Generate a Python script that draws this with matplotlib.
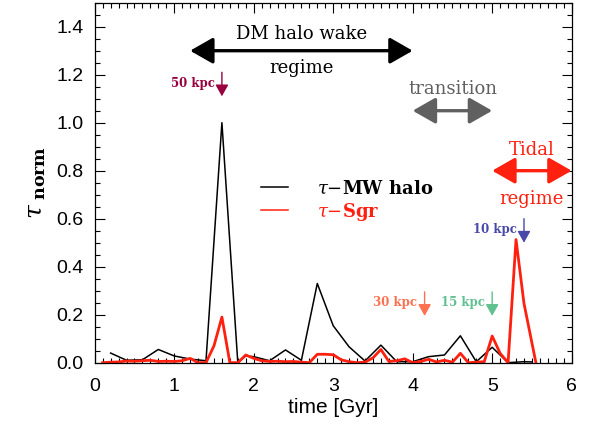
import matplotlib
matplotlib.use('Agg')
import matplotlib.pyplot as plt
from matplotlib.ticker import MultipleLocator

plt.rcParams['font.family'] = ['Liberation Sans', 'DejaVu Sans']
plt.rcParams['mathtext.fontset'] = 'dejavuserif'

# tau normalised, MW halo response
t_halo = [0.2, 0.4, 0.6, 0.8, 1.0, 1.2, 1.4, 1.6, 1.8, 1.9, 2.0, 2.2, 2.4, 2.6, 2.8,
          3.0, 3.2, 3.4, 3.6, 3.8, 4.0, 4.2, 4.4, 4.6, 4.8, 5.0, 5.2, 5.4, 5.5]
tau_halo = [0.04, 0.01, 0.012, 0.055, 0.028, 0.015, 0.008, 1.0, 0.0, 0.028, 0.025, 0.008,
            0.053, 0.01, 0.33, 0.154, 0.066, 0.007, 0.073, 0.004, 0.004, 0.025, 0.032,
            0.112, 0.004, 0.064, 0.0, 0.004, 0.003]

# tau normalised, Sgr
t_sgr = [0.1, 0.2, 0.3, 0.4, 0.5, 0.6, 0.7, 0.8, 0.9, 1.0, 1.1, 1.2, 1.3, 1.4, 1.5, 1.6,
         1.7, 1.8, 1.9, 2.0, 2.1, 2.2, 2.3, 2.4, 2.5, 2.6, 2.7, 2.8, 2.9, 3.0, 3.1, 3.2,
         3.3, 3.4, 3.5, 3.6, 3.7, 3.8, 3.9, 4.0, 4.1, 4.2, 4.3, 4.4, 4.5, 4.6, 4.7, 4.8,
         4.9, 5.0, 5.1, 5.2, 5.3, 5.4, 5.55]
tau_sgr = [0.0, 0.002, 0.003, 0.007, 0.006, 0.008, 0.01, 0.005, 0.006, 0.005, 0.008, 0.018,
           0.0, 0.0, 0.07, 0.19, 0.0, 0.0, 0.032, 0.018, 0.008, 0.005, 0.006, 0.004, 0.005,
           0.002, 0.0, 0.035, 0.035, 0.033, 0.012, 0.004, 0.0, 0.002, 0.02, 0.055, 0.005,
           0.008, 0.016, 0.0, 0.005, 0.014, 0.003, 0.01, 0.002, 0.039, 0.0, 0.002, 0.004,
           0.111, 0.039, 0.0, 0.513, 0.247, 0.0]

# pericentre markers: label, time, colour
peri_labels = ['50 kpc', '30 kpc', '15 kpc', '10 kpc']
peri_times = [1.6, 4.15, 5.0, 5.4]
peri_tops = [1.21, 0.295, 0.295, 0.60]
peri_colors = ['#990040', '#ff7050', '#60c090', '#4848a8']

fig = plt.figure(figsize=(6.01, 4.38), dpi=100)
ax = fig.add_axes([0.1576, 0.172, 0.7936, 0.8218])

ax.plot(t_halo, tau_halo, color='black', lw=1.1, label=r'$\tau$$-$MW halo')
ax.plot(t_sgr, tau_sgr, color='#ff2010', lw=2.0, label=r'$\tau$$-$Sgr')

ax.set_xlim(0, 6)
ax.set_ylim(0, 1.5)
ax.xaxis.set_major_locator(MultipleLocator(1))
ax.xaxis.set_minor_locator(MultipleLocator(0.1))
ax.yaxis.set_major_locator(MultipleLocator(0.2))
ax.yaxis.set_minor_locator(MultipleLocator(0.05))
ax.yaxis.set_major_formatter(matplotlib.ticker.FormatStrFormatter('%.1f'))
ax.tick_params(which='both', direction='in', top=True, right=True, labelsize=14, width=0.8)
ax.tick_params(which='major', length=7)
ax.tick_params(axis='x', which='major', pad=11)
ax.tick_params(axis='y', which='major', pad=8)
ax.tick_params(which='minor', length=3.5)
for s in ax.spines.values():
    s.set_linewidth(0.9)

ax.set_xlabel('time [Gyr]', fontsize=15, labelpad=2)
ax.set_ylabel(r'$\tau_{\ \mathbf{norm}}$', fontsize=18, labelpad=6)

serif = ['DejaVu Serif']

def double_arrow(x0, x1, y, color, lw, hl, hw):
    ax.annotate('', xy=(x1, y), xytext=(x0, y),
                arrowprops=dict(arrowstyle='<|-|>,head_length=%g,head_width=%g' % (hl, hw),
                                color=color, lw=lw, shrinkA=0, shrinkB=0,
                                mutation_scale=20), annotation_clip=False)

# regime arrows
double_arrow(1.2, 4.0, 1.30, 'black', 2.4, 0.7, 0.4)
ax.text(2.6, 1.37, 'DM halo wake', family=serif, fontsize=13, ha='center', va='center')
ax.text(2.6, 1.23, 'regime', family=serif, fontsize=13, ha='center', va='center')

double_arrow(4.0, 5.0, 1.05, '#606060', 2.4, 0.7, 0.4)
ax.text(4.5, 1.14, 'transition', family=serif, fontsize=13, color='#606060',
        ha='center', va='center')

double_arrow(5.0, 6.0, 0.80, '#ff2010', 2.4, 0.7, 0.4)
ax.text(5.5, 0.885, 'Tidal', family=serif, fontsize=13, color='#ff2010',
        ha='center', va='center')
ax.text(5.5, 0.68, 'regime', family=serif, fontsize=13, color='#ff2010',
        ha='center', va='center')

# pericentre arrows
for lab, tp, top, c in zip(peri_labels, peri_times, peri_tops, peri_colors):
    ax.annotate('', xy=(tp, top - 0.1), xytext=(tp, top),
                arrowprops=dict(arrowstyle='-|>,head_length=0.5,head_width=0.28',
                                color=c, lw=1.0, shrinkA=0, shrinkB=0, mutation_scale=14))
    ax.text(tp - 0.09, top - 0.045, lab, family=serif, fontsize=8.5, fontweight='bold',
            color=c, ha='right', va='center')

leg = ax.legend(loc='upper left', bbox_to_anchor=(0.315, 0.555), frameon=False,
                handlelength=1.5, handletextpad=1.6, labelspacing=0.2,
                prop=dict(family=serif, size=13, weight='bold'), labelcolor='linecolor')
leg.get_lines()[1].set_linewidth(1.1)

fig.savefig('out.png', dpi=100)
